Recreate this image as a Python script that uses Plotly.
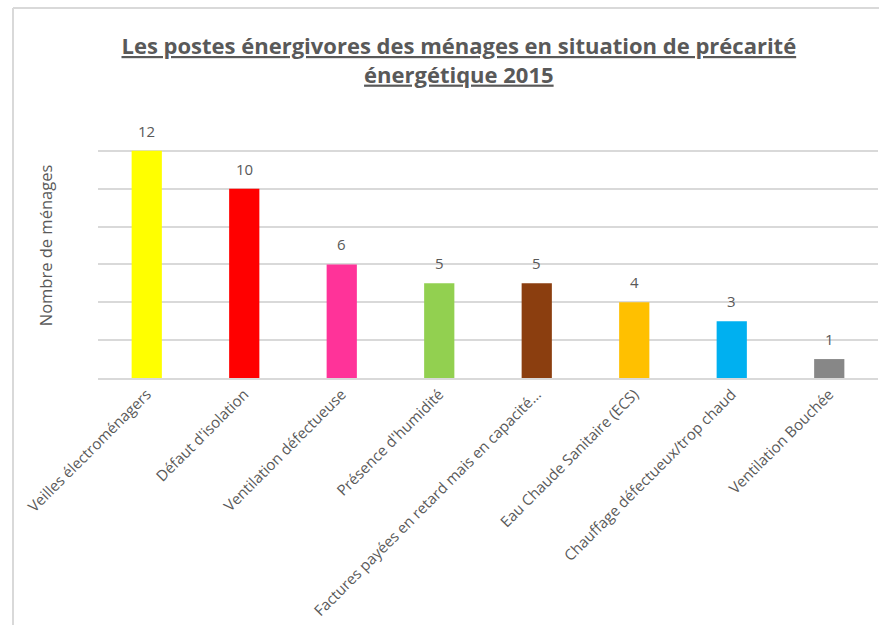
import plotly.graph_objects as go

categories = [
    "Veilles électroménagers",
    "Défaut d'isolation",
    "Ventilation défectueuse",
    "Présence d'humidité",
    "Factures payées en retard mais en capacité…",
    "Eau Chaude Sanitaire (ECS)",
    "Chauffage défectueux/trop chaud",
    "Ventilation Bouchée",
]
values = [12, 10, 6, 5, 5, 4, 3, 1]
colors = ["#FFFF00", "#FF0000", "#FF3399", "#92D050", "#8B3E0F", "#FFC000", "#00B0F0", "#878787"]

title_text = "Les postes énergivores des ménages en situation de précarité<br>énergétique 2015"
y_title = "Nombre de ménages"

FONT = "Open Sans"
GRAY = "#595959"

fig = go.Figure(
    go.Bar(
        x=categories,
        y=values,
        marker=dict(color=colors, line=dict(width=0)),
        width=0.31,
        cliponaxis=False,
        hoverinfo="skip",
    )
)

W, H = 879, 625
L, R, T, B = 98, 1, 113, 247
pw, ph = W - L - R, H - T - B

annotations = [
    dict(x=c, y=v, text=str(v), showarrow=False, yshift=20,
         font=dict(family=FONT, size=15, color=GRAY), xanchor="center", yanchor="middle")
    for c, v in zip(categories, values)
]

fig.update_layout(
    width=W,
    height=H,
    margin=dict(l=L, r=R, t=T, b=B, autoexpand=False),
    paper_bgcolor="white",
    plot_bgcolor="white",
    showlegend=False,
    font=dict(family=FONT, color=GRAY),
    annotations=annotations,
    title=dict(
        text=title_text,
        x=0.522,
        xanchor="center",
        y=1 - 54 / H,
        yanchor="middle",
        font=dict(family=FONT, size=22, color=GRAY, weight="bold", lineposition="under"),
    ),
    xaxis=dict(
        tickangle=-45,
        tickfont=dict(family=FONT, size=15, color=GRAY),
        showline=True,
        linecolor="#D9D9D9",
        linewidth=1.5,
        ticks="",
        showgrid=False,
        automargin=False,
    ),
    yaxis=dict(
        range=[0, 14],
        dtick=2,
        showticklabels=False,
        showgrid=True,
        gridcolor="#D9D9D9",
        gridwidth=1.5,
        zeroline=False,
        ticks="",
        title=dict(text=y_title, font=dict(family=FONT, size=16.5, color=GRAY), standoff=40),
        automargin=False,
    ),
    shapes=[
        dict(type="line", xref="paper", yref="paper",
             x0=-(L - 13) / pw, x1=-(L - 13) / pw, y0=1 + (T - 8) / ph, y1=-(B) / ph,
             line=dict(color="#D9D9D9", width=2)),
        dict(type="line", xref="paper", yref="paper",
             x0=-(L - 13) / pw, x1=1 + R / pw, y0=1 + (T - 8) / ph, y1=1 + (T - 8) / ph,
             line=dict(color="#D9D9D9", width=2)),
    ],
)

fig.write_html("out.html", config={"displayModeBar": False},
               post_script="document.body.style.margin='0px';")
